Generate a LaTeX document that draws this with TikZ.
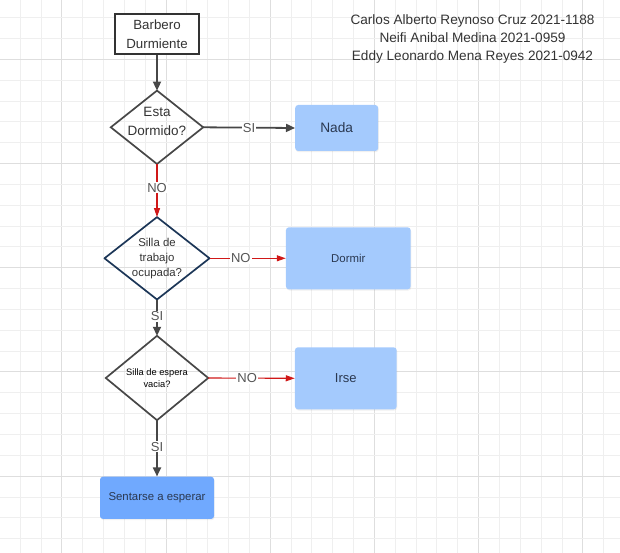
\documentclass[tikz,border=0pt]{standalone}
\usepackage{fontspec}
\setmainfont{Liberation Sans}
\usetikzlibrary{arrows.meta,shadows}
\definecolor{gridminor}{HTML}{EFEFEF}
\definecolor{gridmajor}{HTML}{DEDEDE}
\definecolor{darkline}{HTML}{474747}
\definecolor{txt}{HTML}{333333}
\definecolor{lbl}{HTML}{555555}
\definecolor{redline}{HTML}{D01818}
\definecolor{navy}{HTML}{1C3657}
\definecolor{boxblue}{HTML}{A4CAFD}
\definecolor{boxdeep}{HTML}{70A9FE}
\definecolor{boxtxt}{HTML}{2A3850}
\newcommand{\fs}[2]{\fontsize{#1}{#2}\selectfont}
\tikzset{
  frame/.style={rectangle, inner sep=0pt, align=center, text=txt},
  startbox/.style={rectangle, draw=txt, line width=2.2pt, fill=white, inner sep=0pt, align=center, text=txt},
  procbox/.style={rectangle, rounded corners=3pt, fill=boxblue, inner sep=0pt, align=center, text=boxtxt,
     drop shadow={opacity=0.12, shadow xshift=0.6pt, shadow yshift=-1.2pt}},
  darkedge/.style={draw=darkline, line width=1.8pt, -{Triangle[width=8pt,length=9pt]}},
  rededge/.style={draw=redline, line width=1.1pt, -{Triangle[width=6pt,length=9pt]}},
  edgelbl/.style={fill=white, inner sep=1pt, text=lbl, font=\fs{13}{15}},
}
\begin{document}
\begin{tikzpicture}[x=1pt,y=-1pt]
\useasboundingbox (0,0) rectangle (620,553);
% grid
\foreach \k in {0,...,30}{
  \pgfmathsetmacro{\gx}{-0.8+20.84*\k}
  \pgfmathtruncatemacro{\mj}{mod(\k,5)==3 ? 1 : 0}
  \ifnum\mj=1 \draw[gridmajor, line width=0.8pt] (\gx,0) -- (\gx,553);
  \else \draw[gridminor, line width=0.7pt] (\gx,0) -- (\gx,553); \fi
}
\foreach \k in {0,...,26}{
  \pgfmathsetmacro{\gy}{17.6+20.84*\k}
  \pgfmathtruncatemacro{\mj}{mod(\k,5)==2 ? 1 : 0}
  \ifnum\mj=1 \draw[gridmajor, line width=0.8pt] (0,\gy) -- (620,\gy);
  \else \draw[gridminor, line width=0.7pt] (0,\gy) -- (620,\gy); \fi
}
% header
\node[frame, font=\fs{13.6}{18}] (authors) at (472.5,39)
  {Carlos Alberto Reynoso Cruz 2021-1188\\Neifi Anibal Medina 2021-0959\\Eddy Leonardo Mena Reyes 2021-0942};
% start
\node[startbox, minimum width=84pt, minimum height=40pt, font=\fs{13.3}{18.5}] (start) at (157,34)
  {Barbero\\Durmiente};
% diamond 1
\node[frame, minimum width=92pt, minimum height=73pt] (d1) at (157,127.3) {};
\draw[darkline, line width=1.7pt, line join=miter] (d1.north) -- (d1.east) -- (d1.south) -- (d1.west) -- cycle;
\node[frame, font=\fs{13.5}{19}] (d1text) at (157,121) {Esta\\Dormido?};
% Nada
\node[procbox, minimum width=83pt, minimum height=46pt, font=\fs{13.7}{16}] (nada) at (336.7,128) {Nada};
% diamond 2
\node[frame, minimum width=104.6pt, minimum height=82pt, font=\fs{11.4}{15}] (d2) at (157,258.3)
  {Silla de\\trabajo\\ocupada?};
\draw[navy, line width=1.7pt, line join=round] (d2.north) -- (d2.east) -- (d2.south) -- (d2.west) -- cycle;
% Dormir
\node[procbox, minimum width=124.7pt, minimum height=62pt, font=\fs{11.4}{14}] (dormir) at (348.3,258.3) {Dormir};
% diamond 3
\node[frame, minimum width=102pt, minimum height=84pt, font=\fs{9.3}{12}, text=black] (d3) at (157,378)
  {Silla de espera\\vacia?};
\draw[darkline, line width=1.7pt, line join=miter] (d3.north) -- (d3.east) -- (d3.south) -- (d3.west) -- cycle;
% Irse
\node[procbox, minimum width=101.7pt, minimum height=62pt, font=\fs{13}{16}] (irse) at (345.8,378.3) {Irse};
% Sentarse
\node[procbox, fill=boxdeep, minimum width=114pt, minimum height=42.3pt, font=\fs{11.4}{14}] (sentarse) at (157,497.8) {Sentarse a esperar};
% connectors
\draw[darkedge] (start.south) -- (d1.north);
\draw[darkedge] (d1.east) -- node[edgelbl, pos=0.5] {SI} (nada.west);
\draw[rededge] (d1.south) -- node[edgelbl, pos=0.45] {NO} (d2.north);
\draw[rededge] (d2.east) -- node[edgelbl, pos=0.41] {NO} (dormir.west);
\draw[darkedge] (d2.south) -- node[edgelbl, pos=0.46] {SI} (d3.north);
\draw[rededge] (d3.east) -- node[edgelbl, pos=0.45] {NO} (irse.west);
\draw[darkedge] (d3.south) -- node[edgelbl, pos=0.47] {SI} (sentarse.north);
\end{tikzpicture}
\end{document}
